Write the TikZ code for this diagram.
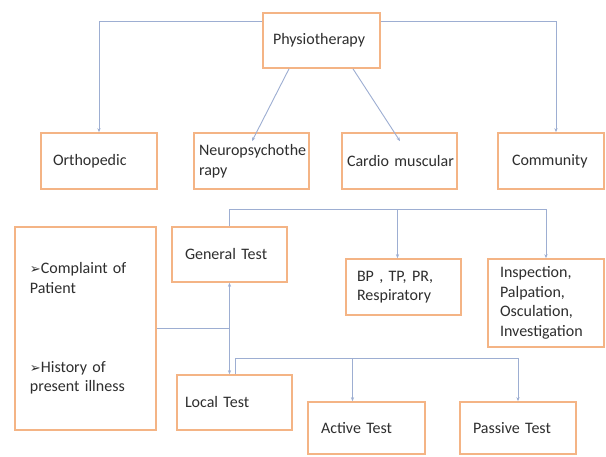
\documentclass[tikz,border=0pt]{standalone}
\usepackage{fontspec}
\setmainfont{Carlito}
\newfontfamily\symfont{DejaVu Sans}
\usetikzlibrary{arrows.meta,calc}
\hyphenpenalty=10000
\exhyphenpenalty=10000
\definecolor{boxline}{HTML}{F4B485}
\definecolor{conncol}{HTML}{9DAED2}
\definecolor{txtcol}{HTML}{2E2E2E}
\tikzset{
  box/.style={draw=boxline, line width=1.7pt, fill=white, align=left,
    text=txtcol, font=\fontsize{16}{19.5}\selectfont, inner ysep=2pt},
  conn/.style={draw=conncol, line width=0.9pt},
  tip/.style={-{Stealth[length=4pt,width=3.2pt]}}
}
\newcommand{\bul}{{\symfont\fontsize{13}{19.5}\selectfont ➢}}
\begin{document}
\begin{tikzpicture}[x=1pt,y=-1pt]
\useasboundingbox[fill=white] (0,0) rectangle (606,457);

% top level
\node[box, minimum height=55pt, text width=97pt, inner xsep=10pt] (phys) at (321.5,40.5) {Physiotherapy\\[3pt]};
\node[box, minimum height=56pt, text width=92pt, inner xsep=12pt] (ortho) at (99,161) {Orthopedic};
\node[box, minimum height=56pt, text width=109pt, inner xsep=3pt] (neuro) at (251.5,161) {\mbox{\hspace*{2pt}Neuropsychothe}\\\mbox{\hspace*{2pt}rapy}};
\node[box, minimum height=56pt, text width=107pt, inner xsep=4pt] (cardio) at (399.5,161) {\mbox{\hspace*{1pt}Cardio muscular}};
\node[box, minimum height=56pt, text width=78pt, inner xsep=14pt] (comm) at (551,161) {Community};

% second part
\node[box, minimum height=55pt, text width=89pt, inner xsep=13pt] (gen) at (229.5,254.5) {General Test\\[2pt]};
\node[box, minimum height=56pt, text width=93pt, inner xsep=11pt] (bp) at (403.5,287) {BP , TP, PR,\\Respiratory};
\node[box, minimum height=88pt, text width=92pt, inner xsep=12pt] (insp) at (546,303) {Inspection,\\Palpation,\\Osculation,\\Investigation};
\node[box, minimum height=203pt, text width=111pt, inner xsep=15pt] (left) at (85.5,328.5)
  {\bul Complaint of\\Patient\\[59.5pt]\bul History of\\present illness};
\node[box, minimum height=55pt, text width=99pt, inner xsep=8pt] (local) at (234.5,402.5) {Local Test};
\node[box, minimum height=52pt, text width=91pt, inner xsep=13pt] (active) at (366.5,428) {Active Test};
\node[box, minimum height=52pt, text width=90pt, inner xsep=13pt] (passive) at (518,428) {Passive Test};

% top connectors
\draw[conn,tip] ($(phys.north west)+(0,9)$) -| (ortho.north);
\draw[conn,tip] ($(phys.north east)+(0,9)$) -| ($(comm.north)+(5,0)$);
\coordinate (n1) at ($(neuro.north)+(0.5,9)$);
\coordinate (c1) at ($(cardio.north)+(0.5,9)$);
\draw[conn,tip] ($(phys.south)+(-32.5,0)$) -- (n1);
\draw[conn,tip] ($(phys.south)+(31.5,0)$) -- (c1);

% general test tree
\coordinate (h2) at ($(gen.north)+(0,-17)$);
\draw[conn,tip] (gen.north) |- (h2 -| insp.north) -- (insp.north);
\draw[conn,tip] ($(h2 -| bp.north)+(-6,0)$) -- ($(bp.north)+(-6,0)$);

% left box junction
\coordinate (j) at (gen.south |- left.east);
\draw[conn] (left.east) -- (j);
\draw[conn,tip] (j) -- (gen.south);
\draw[conn,tip] (j) -- (j |- local.north);

% local test tree
\coordinate (h3) at ($(local.north)+(0.5,-16)$);
\draw[conn,tip] (h3 |- local.north) |- (h3 -| passive.north) -- (passive.north);
\draw[conn,tip] ($(h3 -| active.north)+(-14,0)$) -- ($(active.north)+(-14,0)$);
\end{tikzpicture}
\end{document}
